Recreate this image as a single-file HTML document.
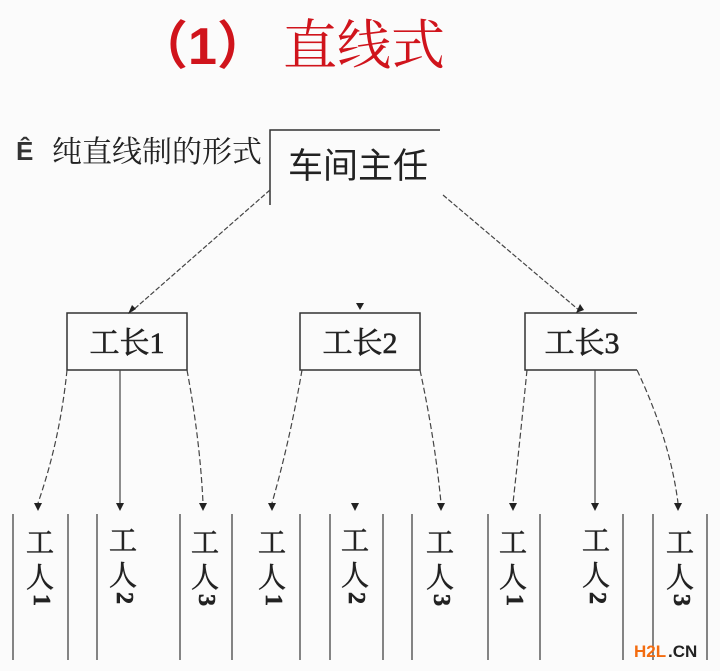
<!DOCTYPE html>
<html><head><meta charset="utf-8"><style>
html,body{margin:0;padding:0;background:#fbfbfb;}
svg{display:block}
</style></head><body>
<svg width="720" height="671" viewBox="0 0 720 671" xmlns="http://www.w3.org/2000/svg">
<rect width="720" height="671" fill="#fbfbfb"/>
<text x="136" y="64" font-family="'Liberation Sans','Noto Sans CJK SC',sans-serif" font-weight="bold" font-size="52" fill="#d0141c">（1）</text>
<text x="283" y="64" font-family="'Liberation Serif','Noto Serif CJK SC',serif" font-size="54" fill="#d0141c">直线式</text>

<text x="16" y="160" font-family="'Liberation Sans',sans-serif" font-weight="bold" font-size="26" fill="#333">Ê</text>
<text x="52" y="162" font-family="'Liberation Serif','Noto Serif CJK SC',serif" font-size="30" fill="#222">纯直线制的形式</text>

<g stroke="#333" fill="none" stroke-width="1.5">
<path d="M270 205 V130 H440"/>
<rect x="67" y="313" width="120" height="57"/>
<rect x="300" y="313" width="120" height="57"/>
<path d="M637 313 H525 V370 H637"/>
</g>
<text x="288" y="178" font-family="'Liberation Sans','Noto Sans CJK SC',sans-serif" font-size="35" fill="#222">车间主任</text>
<g font-family="'Liberation Serif','Noto Serif CJK SC',serif" font-size="30" fill="#222" text-anchor="middle" stroke="#222" stroke-width="0.6">
<text x="127" y="353">工长1</text>
<text x="360" y="353">工长2</text>
<text x="582" y="353">工长3</text>
</g>

<g stroke="#444" fill="none" stroke-width="1.2">
<path d="M270 190 L132 311" stroke-dasharray="5 2"/>
<path d="M443 195 L580 311" stroke-dasharray="5 2"/>
<path d="M67 370 Q60 440 38 503" stroke-dasharray="6 3"/>
<path d="M120 370 V503"/>
<path d="M187 370 Q200 440 203 503" stroke-dasharray="6 3"/>
<path d="M302 370 Q290 440 272 503" stroke-dasharray="6 3"/>
<path d="M420 370 Q435 440 441 503" stroke-dasharray="6 3"/>
<path d="M527 370 Q520 440 513 503" stroke-dasharray="6 3"/>
<path d="M595 370 V503"/>
<path d="M637 370 Q670 440 678 503" stroke-dasharray="6 3"/>
</g>
<g fill="#222">
<path d="M128 314 l4 -9 l4 4 z"/>
<path d="M356 303 h8 l-4 7 z"/>
<path d="M576 313 l4 -9 l4 6 z"/>
<path d="M34 503 h8 l-4 8 z"/>
<path d="M116 503 h8 l-4 8 z"/>
<path d="M199 503 h8 l-4 8 z"/>
<path d="M268 503 h8 l-4 8 z"/>
<path d="M351 503 h8 l-4 8 z"/>
<path d="M437 503 h8 l-4 8 z"/>
<path d="M509 503 h8 l-4 8 z"/>
<path d="M591 503 h8 l-4 8 z"/>
<path d="M674 503 h8 l-4 8 z"/>
</g>

<g stroke="#444" stroke-width="1.3">
<line x1="13" y1="514" x2="13" y2="660"/><line x1="68" y1="514" x2="68" y2="660"/>
<line x1="97" y1="514" x2="97" y2="660"/><line x1="180" y1="514" x2="180" y2="660"/>
<line x1="232" y1="514" x2="232" y2="660"/><line x1="300" y1="514" x2="300" y2="660"/>
<line x1="330" y1="514" x2="330" y2="660"/><line x1="383" y1="514" x2="383" y2="660"/>
<line x1="412" y1="514" x2="412" y2="660"/><line x1="488" y1="514" x2="488" y2="660"/>
<line x1="540" y1="514" x2="540" y2="660"/><line x1="623" y1="514" x2="623" y2="660"/>
<line x1="653" y1="514" x2="653" y2="660"/><line x1="707" y1="514" x2="707" y2="660"/>
</g>

<g font-family="'Liberation Serif','Noto Serif CJK SC',serif" font-size="28" fill="#222" text-anchor="middle" stroke="#222" stroke-width="0.6">
<g transform="translate(40,0)"><text y="552">工</text><text y="587">人</text><text y="606" transform="rotate(90 0 600)" font-size="24" font-weight="bold">1</text></g>
<g transform="translate(123,0)"><text y="550">工</text><text y="585">人</text><text y="604" transform="rotate(90 0 598)" font-size="24" font-weight="bold">2</text></g>
<g transform="translate(205,0)"><text y="552">工</text><text y="587">人</text><text y="606" transform="rotate(90 0 600)" font-size="24" font-weight="bold">3</text></g>
<g transform="translate(272,0)"><text y="552">工</text><text y="587">人</text><text y="606" transform="rotate(90 0 600)" font-size="24" font-weight="bold">1</text></g>
<g transform="translate(355,0)"><text y="550">工</text><text y="585">人</text><text y="604" transform="rotate(90 0 598)" font-size="24" font-weight="bold">2</text></g>
<g transform="translate(440,0)"><text y="552">工</text><text y="587">人</text><text y="606" transform="rotate(90 0 600)" font-size="24" font-weight="bold">3</text></g>
<g transform="translate(513,0)"><text y="552">工</text><text y="587">人</text><text y="606" transform="rotate(90 0 600)" font-size="24" font-weight="bold">1</text></g>
<g transform="translate(596,0)"><text y="550">工</text><text y="585">人</text><text y="604" transform="rotate(90 0 598)" font-size="24" font-weight="bold">2</text></g>
<g transform="translate(680,0)"><text y="552">工</text><text y="587">人</text><text y="606" transform="rotate(90 0 600)" font-size="24" font-weight="bold">3</text></g>
</g>

<text x="634" y="657" font-family="'Liberation Sans',sans-serif" font-weight="bold" font-size="17" fill="#f36c10">H2L</text>
<text x="668" y="657" font-family="'Liberation Sans',sans-serif" font-weight="bold" font-size="17" fill="#222">.CN</text>
</svg>
</body></html>
